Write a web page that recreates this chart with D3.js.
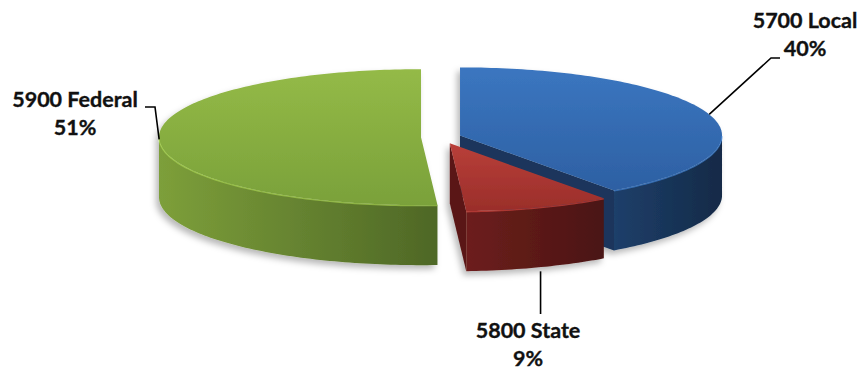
<!DOCTYPE html>
<html>
<head>
<meta charset="utf-8">
<script src="https://cdn.jsdelivr.net/npm/d3@7"></script>
<style>
  html, body { margin: 0; padding: 0; background: #ffffff; }
  svg { display: block; }
  .lbl { font-family: Lato, "Open Sans", sans-serif; font-weight: 700; font-size: 21.5px; fill: #111; stroke: #111; stroke-width: 0.35px; }
</style>
</head>
<body>
<svg id="chart" width="862" height="371"></svg>
<script>
// Revenue sources by account
const categories = ["5700 Local", "5800 State", "5900 Federal"];
const values = [40, 9, 51];
const percentLabels = ["40%", "9%", "51%"];

// Face colours per slice: top face gradient, outer wall gradient, cut face
const topLight  = ["#3b76c0", "#b93f39", "#94ba47"];
const topDark   = ["#2d60a3", "#9a2e2a", "#7aa13a"];
const wallLight = ["#1e3f6a", "#6d1f1c", "#7d9f3a"];
const wallDark  = ["#132a47", "#4a1413", "#4e6726"];
const cutColor  = ["#1a365c", "#5a1816", "#4e6726"];

// Label anchors (text centre x, first baseline y)
const labelPos = [[805, 28], [528, 338], [75, 107]];

const svg = d3.select("#chart");

const cx = 441, cy = 137;     // pie centre
const rx = 262, ry = 68;      // ellipse radii of the top face
const depth = 60;             // wall height
const explode = [20, 26, 20]; // slice offsets

const pie = d3.pie().sort(null).value(d => d)(values);

const defs = svg.append("defs");
const shadow = defs.append("filter").attr("id", "shadow")
  .attr("x", "-10%").attr("y", "-10%").attr("width", "120%").attr("height", "130%");
shadow.append("feDropShadow").attr("dx", -3).attr("dy", 4)
  .attr("stdDeviation", 3).attr("flood-color", "#000").attr("flood-opacity", 0.28);

pie.forEach((p, i) => {
  const g1 = defs.append("linearGradient").attr("id", "top" + i)
    .attr("x1", 0).attr("y1", 0).attr("x2", 0).attr("y2", 1);
  g1.append("stop").attr("offset", "0%").attr("stop-color", topLight[i]);
  g1.append("stop").attr("offset", "100%").attr("stop-color", topDark[i]);
  const g2 = defs.append("linearGradient").attr("id", "wall" + i)
    .attr("x1", 0).attr("y1", 0).attr("x2", 1).attr("y2", 0);
  g2.append("stop").attr("offset", "0%").attr("stop-color", wallLight[i]);
  g2.append("stop").attr("offset", "100%").attr("stop-color", wallDark[i]);
});

// Point on the ellipse of a slice centred at (ox, oy), angle from 12 o'clock clockwise
const proj = (ox, oy, a, dz = 0) => [ox + rx * Math.sin(a), oy - ry * Math.cos(a) + dz];

function arcPoints(ox, oy, a0, a1, dz) {
  const n = Math.max(2, Math.ceil(Math.abs(a1 - a0) / 0.02));
  return d3.range(n + 1).map(k => proj(ox, oy, a0 + (a1 - a0) * k / n, dz));
}
const line = d3.line();

// Draw back-to-front: Local, Federal, State
const order = [0, 2, 1];
const mids = pie.map(p => (p.startAngle + p.endAngle) / 2);
const centres = pie.map((p, i) => [
  cx + explode[i] * Math.sin(mids[i]),
  cy - explode[i] * Math.cos(mids[i]) * ry / rx
]);

const layer = svg.append("g").attr("filter", "url(#shadow)");

order.forEach(i => {
  const p = pie[i];
  const [ox, oy] = centres[i];
  const g = layer.append("g");

  // cut faces that turn towards the viewer
  [[p.startAngle, -1], [p.endAngle, 1]].forEach(([a, s]) => {
    const ny = -Math.cos(a + s * Math.PI / 2);
    if (ny > 0.01) {
      const e = proj(ox, oy, a);
      const pts = [[ox, oy], e, [e[0], e[1] + depth], [ox, oy + depth]];
      g.append("path").attr("d", line(pts) + "Z").attr("fill", cutColor[i]);
    }
  });

  // outer wall on the front half of the ellipse
  const a0 = Math.max(p.startAngle, Math.PI / 2);
  const a1 = Math.min(p.endAngle, 3 * Math.PI / 2);
  if (a1 > a0) {
    const pts = arcPoints(ox, oy, a0, a1, 0).concat(arcPoints(ox, oy, a1, a0, depth));
    g.append("path").attr("d", line(pts) + "Z").attr("fill", `url(#wall${i})`);
  }

  // top face
  const topPts = [[ox, oy]].concat(arcPoints(ox, oy, p.startAngle, p.endAngle, 0));
  g.append("path").attr("d", line(topPts) + "Z").attr("fill", `url(#top${i})`);

  // soft rim along the front edge of the top face
  if (a1 > a0) {
    g.append("path").attr("d", line(arcPoints(ox, oy, a0, a1, 0.6)))
      .attr("fill", "none").attr("stroke", d3.color(topLight[i]).brighter(0.5))
      .attr("stroke-opacity", 0.6).attr("stroke-width", 1.2);
  }
});

// Leader lines from each slice to its label
const stateTop = proj(centres[1][0], centres[1][1], mids[1], depth);
const leaders = [
  [proj(centres[0][0], centres[0][1], mids[0]), [771, 58], [780, 58]],
  [[stateTop[0] + 2, stateTop[1] + 4], [stateTop[0] + 2, 314]],
  [proj(centres[2][0], centres[2][1], mids[2]), [155, 107], [145, 107]]
];
leaders.forEach(pts => {
  svg.append("path").attr("d", line(pts)).attr("fill", "none")
    .attr("stroke", "#000").attr("stroke-width", 1.6);
});

// Labels
categories.forEach((c, i) => {
  const t = svg.append("text").attr("class", "lbl").attr("text-anchor", "middle")
    .attr("x", labelPos[i][0]).attr("y", labelPos[i][1]);
  t.append("tspan").attr("x", labelPos[i][0]).text(c);
  t.append("tspan").attr("x", labelPos[i][0]).attr("dy", 28).text(percentLabels[i]);
});
</script>
</body>
</html>
